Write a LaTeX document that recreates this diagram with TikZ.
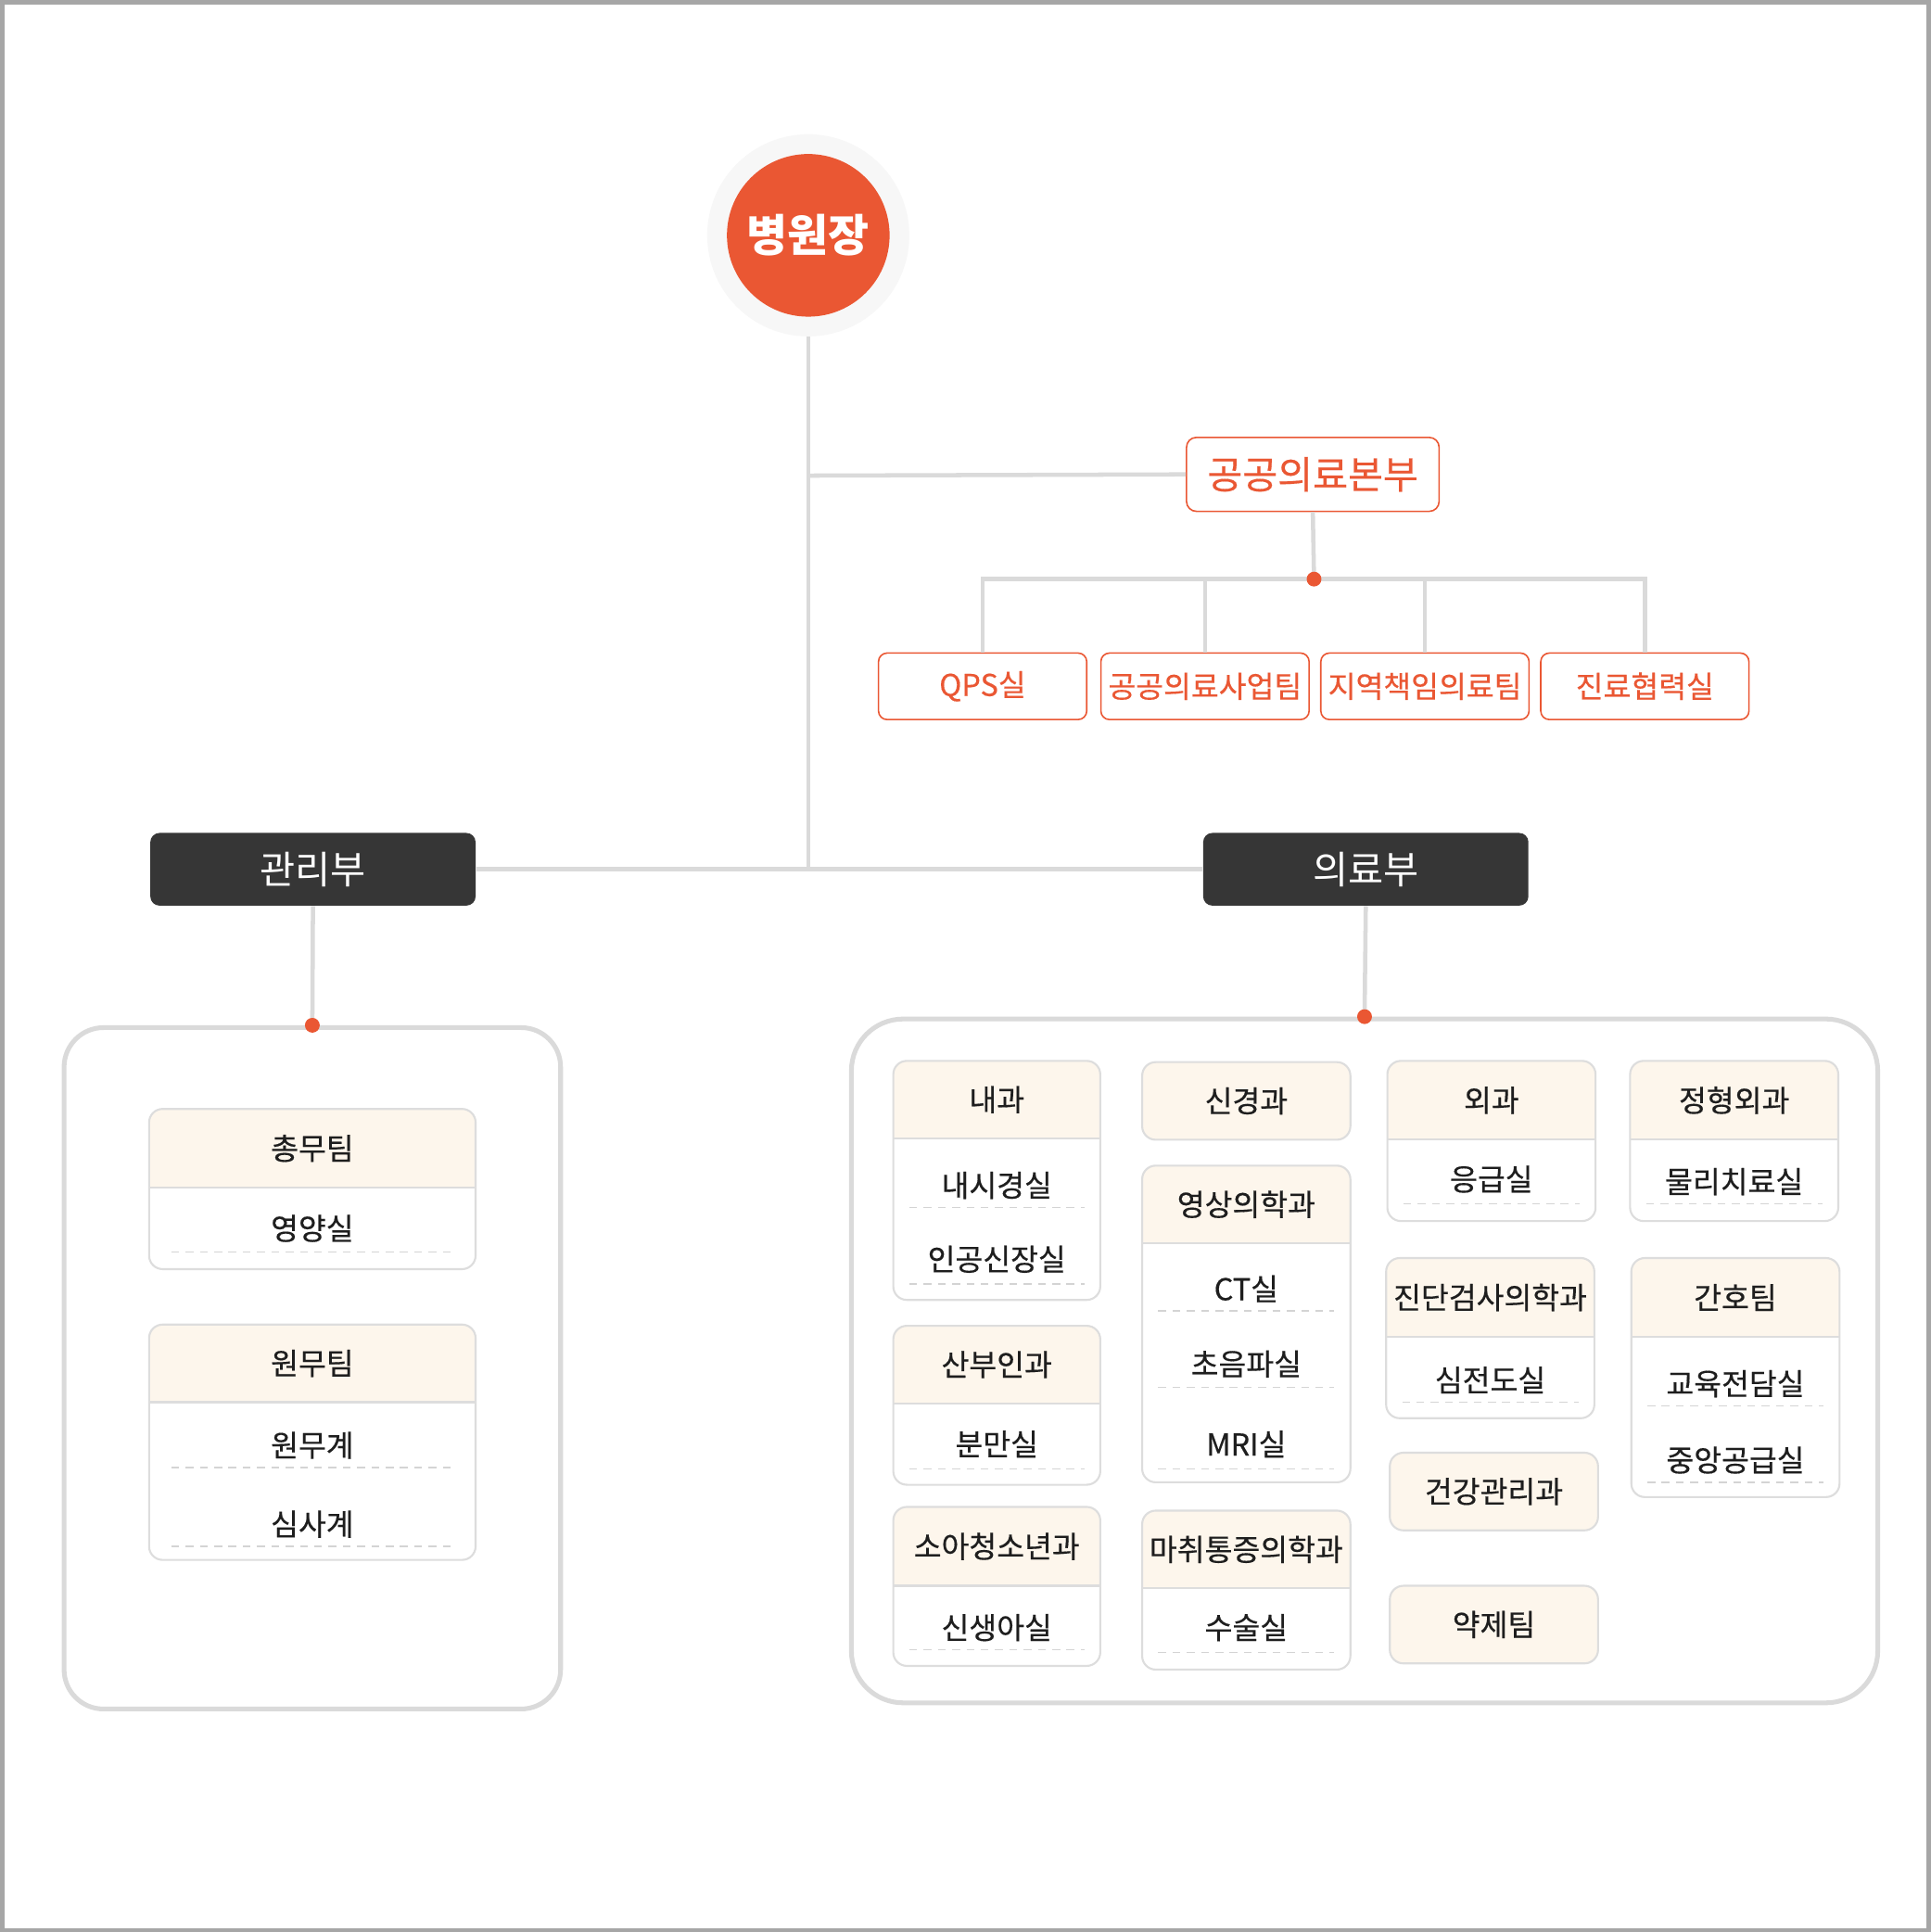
\documentclass[tikz,border=0pt]{standalone}
\usepackage{fontspec}
\setmainfont{Noto Sans CJK KR}
\newfontfamily\krm[FakeBold=0.4]{Noto Sans CJK KR}
\definecolor{og}{HTML}{EA5733}
\definecolor{dk}{HTML}{363636}
\definecolor{ln}{HTML}{DADADA}
\definecolor{cr}{HTML}{FDF6EC}
\definecolor{cb}{HTML}{DDDDDD}
\definecolor{ds}{HTML}{D4D4D4}
\definecolor{fr}{HTML}{A6A6A6}
\definecolor{halo}{HTML}{F7F7F7}
\definecolor{tx}{HTML}{1E1E1E}
\tikzset{
  conn/.style={draw=ln, line width=1.7pt},
  obox/.style={draw=og, line width=0.6pt, fill=white, rounded corners=3.5pt, text=og,
    font=\krm\fontsize{12.2}{14}\selectfont, minimum width=84.5pt, minimum height=27pt, inner sep=0pt},
  dbox/.style={fill=dk, rounded corners=3.75pt, text=white,
    font=\fontsize{15.6}{18}\selectfont, minimum width=132pt, minimum height=29.5pt, inner sep=0pt},
  panel/.style={draw=ln, line width=1.9pt, fill=white, inner sep=0pt},
  ctext/.style={text=tx, font=\krm\fontsize{12.2}{14}\selectfont, inner sep=0pt},
  dashl/.style={draw=ds, line width=0.55pt, dash pattern=on 3.2pt off 2.6pt},
  cardl/.style={draw=cb, line width=0.8pt},
  dotn/.style={circle, fill=og, minimum size=6pt, inner sep=0pt},
}
% card with header: name, x1, y1, x2, y2, yh, header text
\newcommand\mkcard[7]{%
  \fill[white, rounded corners=5.5pt] (#2,#3) rectangle (#4,#5);
  \begin{scope}
    \clip[rounded corners=5.5pt] (#2,#3) rectangle (#4,#5);
    \fill[cr] (#2,#3) rectangle (#4,#6);
  \end{scope}
  \draw[cardl, rounded corners=5.5pt] (#2,#3) rectangle (#4,#5);
  \draw[cardl] (#2,#6) -- (#4,#6);
  \node[ctext] (#1) at ({(#2+#4)/2},{(#3+#6)/2}) {#7};
}
% header-only card: name, x1, y1, x2, y2, text
\newcommand\mkhcard[6]{%
  \draw[cardl, fill=cr, rounded corners=5.5pt] (#2,#3) rectangle (#4,#5);
  \node[ctext] (#1) at ({(#2+#4)/2},{(#3+#5)/2}) {#6};
}
% item: name, x1, x2, ytext, ydash, text, inset
\newcommand\mkitem[7]{%
  \node[ctext] (#1) at ({(#2+#3)/2},#4) {#6};
  \draw[dashl] ({#2+#7},#5) -- ({#3-#7},#5);
}
\begin{document}
\begin{tikzpicture}[x=0.5pt, y=-0.5pt]
\useasboundingbox (0,0) rectangle (1567,1568);
\fill[white] (0,0) rectangle (1567,1568);
\draw[fr, line width=1.7pt] (1.7,1.7) rectangle (1565.3,1566.3);

% root
\node[circle, fill=halo, minimum size=82pt, inner sep=0pt] (ring) at (656,191) {};
\node[circle, fill=og, minimum size=66pt, inner sep=0pt, text=white,
  font=\fontsize{18}{20}\selectfont\bfseries] (root) at (656,191) {병원장};

% public medical division
\node[obox, minimum width=102.5pt, minimum height=30pt, rounded corners=4pt,
  font=\krm\fontsize{15.5}{18}\selectfont] (pub) at (1065.5,385) {공공의료본부};
\node[obox] (qps) at (797.5,557) {QPS실};
\node[obox] (pbiz) at (978,557) {공공의료사업팀};
\node[obox] (reg) at (1156.5,557) {지역책임의료팀};
\node[obox] (coop) at (1335,557) {진료협력실};

% divisions
\node[dbox] (gwan) at (254,705.5) {관리부};
\node[dbox] (uiryo) at (1108.5,705.5) {의료부};

\coordinate (jM) at (656,705.5);
\coordinate (jP) at (656,386);
\coordinate (jS) at (1066.5,470);

\draw[conn] (ring.south) -- (jM);
\draw[conn] (gwan.east) -- (uiryo.west);
\draw[conn] (jP) -- (pub.west);
\draw[conn] (pub.south) -- (jS);
\draw[conn] (qps.north) -- (qps.north |- jS) -- (coop.north |- jS) -- (coop.north);
\draw[conn] (pbiz.north) -- (pbiz.north |- jS);
\draw[conn] (reg.north) -- (reg.north |- jS);
\node[dotn] (dotS) at (jS) {};

% panels
\node[panel, rounded corners=16pt, minimum width=201.5pt, minimum height=276.5pt] (lpanel) at (253.5,1110.5) {};
\node[panel, rounded corners=21pt, minimum width=416.5pt, minimum height=277.5pt] (rpanel) at (1107.5,1104.5) {};
\draw[conn] (gwan.south) -- (lpanel.north);
\draw[conn] (uiryo.south) -- (rpanel.north);
\node[dotn] (dotL) at (lpanel.north) {};
\node[dotn] (dotR) at (rpanel.north) {};

% left cards
\mkcard{chongmu}{121}{900}{386}{1030}{964}{총무팀}
\mkitem{yeongyang}{121}{386}{997}{1016}{영양실}{18}
\mkcard{wonmu}{121}{1075}{386}{1266}{1138}{원무팀}
\mkitem{wonmugye}{121}{386}{1173}{1191}{원무계}{18}
\mkitem{simsa}{121}{386}{1237}{1255}{심사계}{18}

% right column 1
\mkcard{naegwa}{725}{861}{893}{1055}{924}{내과}
\mkitem{naesi}{725}{893}{962}{980}{내시경실}{13}
\mkitem{ingong}{725}{893}{1022}{1042}{인공신장실}{13}
\mkcard{sanbu}{725}{1076}{893}{1205}{1139}{산부인과}
\mkitem{bunman}{725}{893}{1172}{1192}{분만실}{13}
\mkcard{soa}{725}{1223}{893}{1352}{1287}{소아청소년과}
\mkitem{sinsaeng}{725}{893}{1321}{1339}{신생아실}{13}

% right column 2
\mkhcard{singyeong}{927}{862}{1096}{925}{신경과}
\mkcard{yeongsang}{927}{946}{1096}{1203}{1009}{영상의학과}
\mkitem{ct}{927}{1096}{1046}{1064}{CT실}{13}
\mkitem{choeum}{927}{1096}{1107}{1126}{초음파실}{13}
\mkitem{mri}{927}{1096}{1172}{1192}{MRI실}{13}
\mkcard{machwi}{927}{1226}{1096}{1355}{1289}{마취통증의학과}
\mkitem{susul}{927}{1096}{1321}{1341}{수술실}{13}

% right column 3
\mkcard{oegwa}{1126}{861}{1295}{991}{925}{외과}
\mkitem{eunggeup}{1126}{1295}{957}{977}{응급실}{13}
\mkcard{jindan}{1125}{1021}{1294}{1151}{1085}{진단검사의학과}
\mkitem{simjeon}{1125}{1294}{1120}{1138}{심전도실}{13}
\mkhcard{geongang}{1128}{1179}{1297}{1242}{건강관리과}
\mkhcard{yakje}{1128}{1287}{1297}{1350}{약제팀}

% right column 4
\mkcard{jeonghyeong}{1323}{861}{1492}{991}{925}{정형외과}
\mkitem{mulli}{1323}{1492}{959}{977}{물리치료실}{13}
\mkcard{ganho}{1324}{1021}{1493}{1215}{1085}{간호팀}
\mkitem{gyoyuk}{1324}{1493}{1123}{1141}{교육전담실}{13}
\mkitem{jungang}{1324}{1493}{1185}{1203}{중앙공급실}{13}
\end{tikzpicture}
\end{document}
